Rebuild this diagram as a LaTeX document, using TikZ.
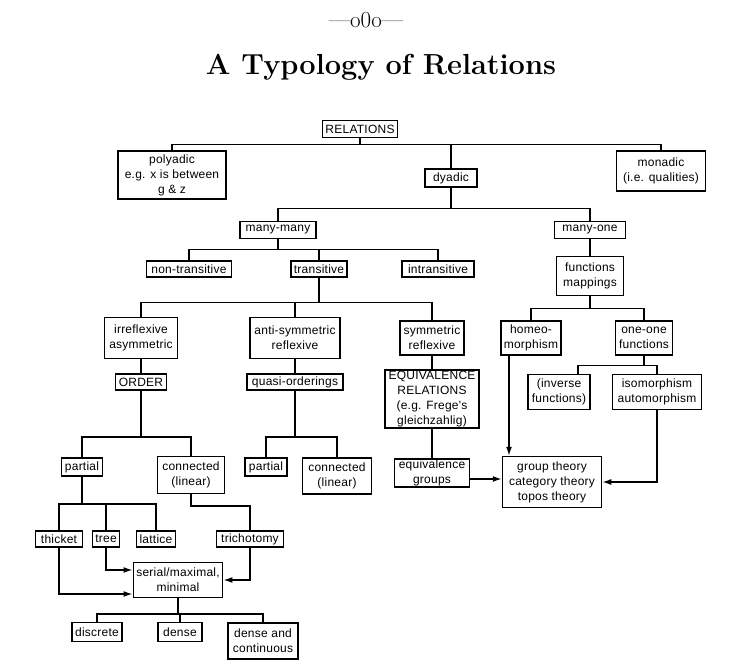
\documentclass[tikz,border=0pt]{standalone}
\usepackage{fontspec}
\usetikzlibrary{arrows.meta,calc}
\newfontfamily\boxfont[LetterSpace=2]{Liberation Sans}

\begin{document}
\begin{tikzpicture}[x=1pt,y=-1pt,
      b/.style={draw,line width=1.5pt,align=center,inner xsep=3pt,inner ysep=1pt,
                font=\boxfont\fontsize{12}{15}\selectfont},
      sz/.style 2 args={minimum width=#1,minimum height=#2},
      ln/.style={line width=1.5pt},
      arr/.style={ln,-{Latex[length=9pt,width=6pt]}}]
    \useasboundingbox (0,0) rectangle (734,668);
    \node[font=\fontsize{23}{26}\selectfont] (orn) at (366,20) {---o0o---};
    \node[font=\fontsize{29}{34}\selectfont\bfseries] (title) at (381,67)
      {A Typology of Relations};
    % top levels
    \node[b,sz={75}{17}] (rel) at (360,129) {RELATIONS};
    \node[b,sz={108}{48}] (poly) at (172,175) {polyadic\\e.g. x is between\\g \& z};
    \node[b,sz={52}{18}] (dyad) at (451,178) {dyadic};
    \node[b,sz={89}{40}] (mona) at (661,171) {monadic\\(i.e. qualities)};
    \node[b,sz={76}{17}] (mm) at (278,230) {many-many};
    \node[b,sz={71}{17}] (mo) at (590,230) {many-one};
    \node[b,sz={85}{16}] (ntr) at (189,269) {non-transitive};
    \node[b,sz={54}{16}] (tr) at (319,269) {transitive};
    \node[b,sz={72}{16}] (intr) at (438,269) {intransitive};
    \node[b,sz={67}{39}] (fun) at (590,276) {functions\\mappings};
    % transitive branch
    \node[b,sz={73}{41}] (irr) at (141,338) {irreflexive\\asymmetric};
    \node[b,sz={90}{41}] (anti) at (295,338) {anti-symmetric\\reflexive};
    \node[b,sz={64}{34}] (sym) at (432,338) {symmetric\\reflexive};
    \node[b,sz={51}{16}] (ord) at (141,382) {ORDER};
    \node[b,sz={96}{16}] (quasi) at (295,382) {quasi-orderings};
    \node[b,sz={94}{52}] (equiv) at (432,399)
      {EQUIVALENCE\\RELATIONS\\(e.g. Frege's\\gleichzahlig)};
    \node[b,sz={75}{28}] (eqg) at (432,473) {equivalence\\groups};
    % functions branch
    \node[b,sz={60}{34}] (homeo) at (531,338) {homeo-\\morphism};
    \node[b,sz={57}{34}] (one) at (644,338) {one-one\\functions};
    \node[b,sz={62}{35}] (inv) at (559,392) {(inverse\\functions)};
    \node[b,sz={89}{35}] (iso) at (657,392) {isomorphism\\automorphism};
    \node[b,sz={99}{51}] (grp) at (552,482) {group theory\\category theory\\topos theory};
    % orderings
    \node[b,sz={41}{18}] (part) at (82,467) {partial};
    \node[b,sz={67}{37}] (conn) at (191,475) {connected\\(linear)};
    \node[b,sz={42}{18}] (qpart) at (266,467) {partial};
    \node[b,sz={69}{36}] (qconn) at (337,476) {connected\\(linear)};
    \node[b,sz={47}{16}] (thi) at (59,539) {thicket};
    \node[b,sz={27}{16}] (tree) at (106,539) {tree};
    \node[b,sz={39}{16}] (lat) at (156,539) {lattice};
    \node[b,sz={67}{16}] (tri) at (250,539) {trichotomy};
    \node[b,sz={89}{35}] (ser) at (178,580) {serial/maximal,\\minimal};
    \node[b,sz={49}{19}] (disc) at (97,632) {discrete};
    \node[b,sz={44}{19}] (dense) at (180,632) {dense};
    \node[b,sz={70}{36}] (dc) at (263,641) {dense and\\continuous};
    % tree lines
    \foreach \c in {poly,dyad,mona} \draw[ln] (rel.south) -- ++(0,6.5) -| (\c.north);
    \foreach \c in {mm,mo} \draw[ln] (dyad.south) -- ++(0,21) -| (\c.north);
    \foreach \c in {ntr,tr,intr} \draw[ln] (mm.south) -- ++(0,10.5) -| (\c.north);
    \foreach \c in {irr,anti,sym} \draw[ln] (tr.south) -- ++(0,25) -| (\c.north);
    \draw[ln] (mo) -- (fun);
    \foreach \c in {homeo,one} \draw[ln] (fun.south) -- ++(0,12.5) -| (\c.north);
    \draw[ln] (irr) -- (ord);
    \draw[ln] (anti) -- (quasi);
    \draw[ln] (sym) -- (equiv);
    \draw[ln] (equiv) -- (eqg);
    \foreach \c in {part,conn} \draw[ln] (ord.south) -- ++(0,46) -| (\c.north);
    \foreach \c in {qpart,qconn} \draw[ln] (quasi.south) -- ++(0,46) -| (\c.north);
    \draw[ln] (one.south) -- ++(0,10) -| ([xshift=19pt]inv.north);
    \draw[ln] (one.south) -- ++(0,10) -| (iso.north);
    \foreach \c in {thi,tree,lat} \draw[ln] (part.south) -- ++(0,27) -| (\c.north);
    \draw[ln] (conn.south) -- ++(0,11.5) -| (tri.north);
    \foreach \c in {disc,dense,dc} \draw[ln] (ser.south) -- ++(0,15.5) -| (\c.north);
    % arrows
    \draw[arr] (thi.south) |- ($(ser.west)+(0,14)$);
    \draw[arr] (tree.south) |- ($(ser.west)+(0,-10)$);
    \draw[arr] (tri.south) |- (ser.east);
    \draw[arr] ($(eqg.east)+(0,6)$) -- ($(grp.west)+(0,-3)$);
    \draw[arr] ([xshift=-22pt]homeo.south) -- ([xshift=-43pt]grp.north);
    \draw[arr] (iso.south) |- (grp.east);
\end{tikzpicture}
\end{document}
